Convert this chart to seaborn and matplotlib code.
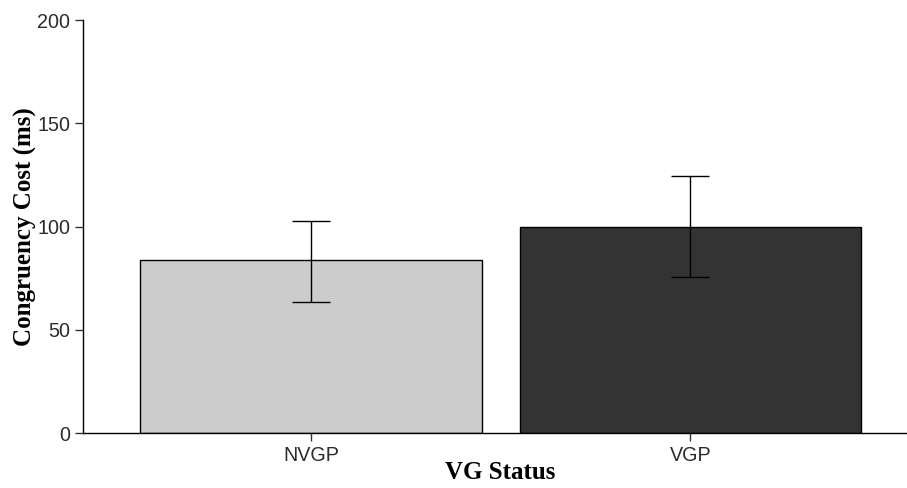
import matplotlib
matplotlib.use("Agg")
import matplotlib.pyplot as plt
import seaborn as sns
import pandas as pd

groups = ["NVGP", "VGP"]
means = [83.7, 99.8]
upper = [102.8, 124.6]
lower = [63.5, 75.6]
colors = ["#CCCCCC", "#333333"]
yticks = [0, 50, 100, 150, 200]

sns.set_theme(style="white")
plt.rcParams["font.family"] = ["Liberation Sans", "DejaVu Sans"]

df = pd.DataFrame({"group": groups, "mean": means})

fig = plt.figure(figsize=(9.07, 4.88), dpi=100)
ax = fig.add_axes([83.3 / 907, (488 - 433.3) / 488, (918 - 83.3) / 907, 413.3 / 488])

sns.barplot(data=df, x="group", y="mean", hue="group", palette=colors,
            width=0.9, edgecolor="black", linewidth=1.0, legend=False, ax=ax)

xs = list(range(len(groups)))
yerr = [[m - l for m, l in zip(means, lower)], [u - m for m, u in zip(means, upper)]]
ax.errorbar(xs, means, yerr=yerr, fmt="none", ecolor="black", elinewidth=1.0,
            capsize=13.7, capthick=1.0, zorder=5)

ax.set_xlim(-0.6, 1.6)
ax.set_ylim(0, 200)
ax.set_yticks(yticks)
ax.set_yticklabels([str(t) for t in yticks])

for side in ["top", "right"]:
    ax.spines[side].set_visible(False)
for side in ["left", "bottom"]:
    ax.spines[side].set_color("black")
    ax.spines[side].set_linewidth(1.0)

ax.tick_params(axis="both", which="major", length=5.5, width=1.0, color="#333333",
               labelcolor="#2B2B2B", labelsize=14.2, pad=4, left=True, bottom=True)

serif = {"family": ["Liberation Serif", "DejaVu Serif"], "weight": "bold", "size": 18,
         "color": "black"}
ax.set_xlabel("VG Status", fontdict=serif)
ax.set_ylabel("Congruency Cost (ms)", fontdict=serif)
ax.xaxis.set_label_coords(0.5, -0.068)
ax.yaxis.set_label_coords(-0.0555, 0.5)

fig.savefig("out.png", dpi=100)
